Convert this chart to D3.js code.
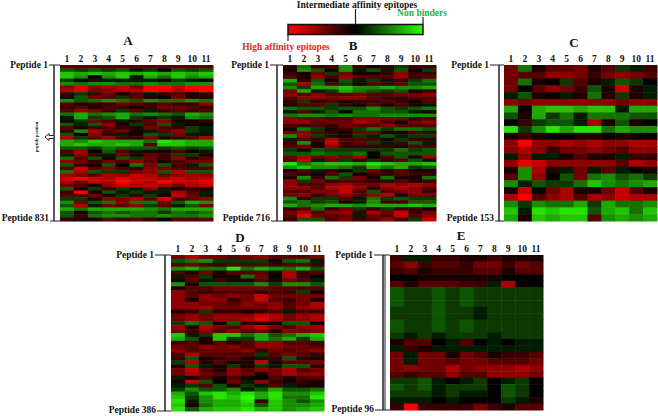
<!DOCTYPE html>
<html>
<head>
<meta charset="utf-8">
<script src="https://cdn.jsdelivr.net/npm/d3@7"></script>
<style>
  html, body { margin: 0; padding: 0; background: #fff; }
  text { font-family: "Liberation Serif", serif; font-weight: bold; fill: #111; }
</style>
</head>
<body>
<div id="chart"></div>
<script>
// columns are the 11 peptide positions, values: -9 red (high affinity) .. 9 green (non binder)
const positions = ["1", "2", "3", "4", "5", "6", "7", "8", "9", "10", "11"];

const rowsA = [
  [-3,-3,-3,-3,-3,-3,-3,-3,-3,-3,-3],
  [3,2,3,2,3,1,2,0,3,2,3],
  [7,6,7,6,7,6,7,6,7,6,7],
  [7,5,0,5,7,1,6,4,7,5,6],
  [2,0,-2,1,1,1,1,-1,2,1,0],
  [5,4,5,5,4,4,5,4,4,5,5],
  [-5,-8,-5,-6,-7,-4,-9,-9,-7,-9,-9],
  [-6,-8,-4,-5,-6,-6,-9,-8,-6,-8,-9],
  [-2,2,-2,-4,-1,-3,1,-2,-3,-1,-2],
  [-1,3,-4,-3,2,-3,-1,0,-4,-1,-1],
  [5,3,4,5,4,3,5,4,4,5,4],
  [-3,-1,-2,-2,-4,-3,-2,-3,-2,-2,-5],
  [-2,-3,-1,-3,-2,-1,-2,-4,-4,-3,-2],
  [-3,-5,-4,-2,2,-3,1,-2,-3,-2,-3],
  [4,6,4,5,6,4,5,4,3,6,5],
  [1,6,2,3,6,2,1,2,1,5,4],
  [-1,2,-4,-3,1,-2,-3,-5,-1,-1,-2],
  [3,1,3,-5,-1,2,-3,3,1,-1,0],
  [-3,-1,-2,-3,-2,-1,-4,-3,-2,2,1],
  [-2,5,-6,-3,-4,-1,1,-3,-5,2,1],
  [3,0,-5,-2,1,-1,3,2,-4,1,1],
  [-6,2,-3,-5,-2,-2,-4,-1,-2,-3,-6],
  [6,5,7,6,6,6,4,8,7,6,6],
  [6,7,6,6,7,6,-3,7,7,6,6],
  [3,3,2,4,3,3,3,2,3,2,3],
  [-3,-6,0,3,-3,1,-1,-1,-3,0,1],
  [1,-5,-2,1,-4,-1,-3,-2,2,2,-1],
  [4,-3,3,-1,3,2,-4,-2,-5,-2,-3],
  [-5,-4,-2,-4,-3,-5,-3,-1,-3,-4,-4],
  [3,-2,-1,3,0,4,-4,3,-2,1,3],
  [-3,-7,-3,-5,-3,-2,-5,-4,-3,-3,-3],
  [4,-6,3,2,2,-4,-5,3,-6,3,3],
  [-6,-4,-3,-6,-5,-7,-6,-4,-5,-6,-5],
  [-7,-9,-7,-6,-8,-7,-7,-6,-7,-6,-7],
  [-6,-4,-7,-6,-9,-7,-6,-9,-7,-7,-8],
  [-4,-3,-1,-5,-7,-6,-7,-6,-4,-6,-7],
  [3,-1,2,-2,2,1,-5,1,0,-1,-1],
  [-2,-9,-1,3,1,2,1,1,-6,-3,1],
  [-3,-3,-4,-1,2,-2,2,-1,-7,-4,1],
  [2,2,-1,-5,-4,-6,-3,-8,-2,-3,-5],
  [5,-4,3,4,-5,4,4,-4,3,6,5],
  [3,-6,1,-4,-3,-5,2,-3,1,3,-4],
  [6,4,6,6,6,6,5,4,6,6,6],
  [3,-1,3,4,3,4,4,2,4,3,4],
  [3,-2,4,5,5,4,4,5,4,4,5],
  [-2,-1,-1,-3,-2,-3,-2,0,-3,-3,-3]
];

const rowsB = [
  [-2,4,-2,-2,5,-2,-1,-2,2,-2,-2],
  [-1,5,3,-1,5,1,3,1,3,-1,2],
  [-2,-1,-4,2,-4,-1,-1,-2,-5,-2,-2],
  [-3,-1,-5,-2,-5,-3,-3,-3,-5,-2,-3],
  [6,-2,3,-1,3,1,2,1,-2,2,4],
  [3,-6,4,-3,2,-1,-3,-2,-3,3,3],
  [5,2,6,6,7,5,5,6,5,5,6],
  [-4,6,1,2,6,4,3,2,3,-1,-2],
  [-5,-3,-5,-3,-3,-4,-3,-3,-4,-4,-5],
  [-3,-5,-5,-4,-5,-5,-3,-2,-2,-3,-3],
  [-2,2,-2,-3,-1,-2,-2,-3,-2,-1,-3],
  [-1,-3,-3,2,-2,-1,-3,-1,-3,-1,1],
  [4,3,3,2,3,3,5,3,2,3,4],
  [1,-3,1,3,0,4,4,3,3,1,-1],
  [4,5,5,4,5,4,4,5,5,5,5],
  [-5,-4,-4,-3,-3,-5,-5,-4,-4,-2,-3],
  [-5,-5,-3,-4,-4,-6,-5,-3,-1,-4,-5],
  [-3,-2,-3,-2,-4,-3,-3,-5,-3,-3,-3],
  [-1,4,2,-1,-2,2,4,2,4,4,3],
  [-4,-5,-3,-2,-1,-4,-4,-1,-1,-3,-2],
  [5,-5,2,1,-1,2,1,3,1,2,2],
  [1,-3,-2,-6,-3,-3,-3,-1,2,-2,-2],
  [-2,5,-1,-7,-2,-3,2,1,-2,3,1],
  [-3,-4,-1,-5,-2,-2,-2,-2,-1,-3,-3],
  [2,-1,3,2,2,2,2,2,4,2,3],
  [3,3,4,3,3,4,0,3,3,3,3],
  [-4,-6,-4,-5,-4,-6,0,-3,3,-1,-5],
  [-3,-7,1,-4,2,-2,2,-2,-3,3,1],
  [8,4,6,7,7,6,8,7,6,6,7],
  [5,7,5,5,4,2,6,4,6,2,3],
  [-1,-3,1,-2,0,2,-4,-1,-3,-1,-1],
  [-3,-2,-1,-3,3,-1,-2,-2,-3,-2,-2],
  [-1,5,-2,4,2,-4,-1,4,-1,-1,4],
  [-5,2,-4,-2,-3,-3,-2,1,-3,-1,-2],
  [-5,-3,-3,-5,-6,-4,-4,-6,-5,-6,-5],
  [-5,-5,-3,-6,-7,-5,-2,-5,-6,-5,-3],
  [-3,-3,-5,-4,-7,-3,3,-3,-4,-5,-2],
  [-4,-5,-2,-4,-5,-3,-5,-6,-1,-4,-4],
  [5,-2,2,2,-3,1,4,2,3,2,2],
  [3,4,2,3,-1,1,5,-2,-2,3,3],
  [6,4,5,6,6,5,6,6,6,7,6],
  [-2,-3,4,-2,-4,2,-2,2,-2,-2,-1],
  [-4,-6,-3,-5,-5,-2,-6,-4,-7,-2,-4],
  [-3,-8,-4,-3,-4,1,-4,-3,-7,-3,-5],
  [-2,3,3,-3,-4,-2,-3,-5,-2,2,-7]
];

const rowsC = [
  [-4,4,-1,-3,-3,-4,-1,-3,2,1,-2],
  [-4,-3,-3,-5,-5,-4,-2,-4,-5,-4,-3],
  [-4,4,-1,0,2,-3,-1,1,3,2,0],
  [-4,0,-3,-5,-4,-2,3,-1,-7,-1,1],
  [1,3,-1,0,1,-1,4,-1,2,-1,1],
  [-5,-4,-5,-5,-5,-5,-5,-5,-4,-5,-5],
  [6,0,6,7,7,6,7,7,1,6,6],
  [3,-1,6,2,4,1,4,4,4,3,3],
  [0,-2,2,3,3,1,-6,-1,3,-1,0],
  [8,2,5,8,6,8,8,4,6,5,5],
  [-1,-2,-1,0,0,-1,-1,0,-1,0,0],
  [-5,-9,-5,-5,-6,-5,-6,-5,-5,-6,-6],
  [-5,-6,-5,-2,-4,-4,-5,-4,-3,-5,-5],
  [1,-5,1,1,-1,-3,-1,-1,1,-2,-2],
  [-5,-8,-7,-5,-5,-5,-5,-5,-3,-6,-5],
  [-1,5,-6,-1,1,-4,1,-3,1,0,-1],
  [-3,5,-5,0,3,-4,4,5,3,4,2],
  [5,1,3,2,2,4,7,5,4,5,6],
  [-1,-7,0,-4,-6,-1,-1,-4,-7,-3,-1],
  [-6,-9,-3,-5,-6,-3,-6,-5,-7,-6,-6],
  [5,2,5,4,4,6,2,6,4,4,5],
  [7,1,8,7,8,8,3,6,7,4,7],
  [6,-1,7,6,7,7,-3,5,6,5,6]
];

const rowsD = [
  [-4,-6,-4,-4,-3,-4,-5,-3,-3,-3,-4],
  [3,4,5,2,2,2,2,-1,3,4,1],
  [-3,-4,-3,-2,-3,-3,-3,-2,-3,-3,-2],
  [5,6,4,4,8,4,6,5,4,6,3],
  [-3,-1,-4,-1,-3,-3,-3,-1,-6,-2,-3],
  [1,-3,2,-1,-1,4,-4,0,-6,-2,0],
  [-1,-3,1,-2,-1,-1,-3,-1,-4,-3,1],
  [5,-1,3,3,3,3,5,2,5,5,3],
  [-1,-3,-3,-4,-4,-4,-4,-3,-3,-3,-3],
  [-5,-3,-2,-3,-3,-3,-2,-3,-2,2,-1],
  [-5,-3,-5,-4,-5,-4,-7,-4,-4,-4,-4],
  [-5,-1,-5,-5,-2,-4,-7,-3,-2,-4,-1],
  [-5,-5,-4,-4,-3,-5,-4,-5,-3,-4,-6],
  [-5,-5,-6,-4,-4,-4,-4,-5,-3,-5,-6],
  [-1,-2,2,-2,-2,-1,-2,-3,1,-3,-2],
  [-4,-5,-4,-5,-5,-5,-7,-6,-4,-5,-6],
  [-4,-5,-4,-5,-5,-6,-8,-6,-4,-5,-6],
  [2,4,3,-1,3,-2,-1,-1,3,3,-1],
  [-5,-1,-6,-4,-3,-5,-7,-4,-2,-5,-5],
  [-4,-2,-5,-3,-5,-3,-4,-1,-5,-4,-5],
  [7,1,2,7,7,4,6,3,4,6,7],
  [6,3,-1,7,2,2,6,4,6,2,6],
  [-2,-3,-1,-3,-1,-3,-5,-5,-3,-3,-2],
  [-4,-3,-5,-4,-5,-3,-5,-5,-4,-4,-3],
  [-5,-3,-4,-4,-4,-5,-2,-4,-3,-4,-5],
  [-3,-6,-3,-3,-3,-3,2,-3,-4,-3,-2],
  [-2,3,-1,-2,-3,-1,1,-2,3,-2,-1],
  [2,-6,-1,-3,-1,-1,-7,-1,-3,-3,-4],
  [-1,3,1,-1,2,-1,2,1,3,3,-2],
  [-4,-7,-3,-1,-5,-3,-5,-4,-6,-3,-4],
  [-4,-6,-4,-3,-5,-4,-1,-4,-6,-5,-5],
  [1,-1,-3,-1,-3,-1,0,-3,-1,-3,-3],
  [-1,-7,3,0,-4,1,-5,-2,-1,-2,-1],
  [1,2,-3,3,-1,2,1,-3,1,-1,-1],
  [2,5,3,3,5,1,3,6,3,3,4],
  [6,3,7,8,6,8,6,8,5,5,7],
  [7,2,5,8,7,9,6,8,4,4,8],
  [8,1,5,6,6,8,-2,7,5,3,5],
  [7,-1,4,6,6,7,3,7,5,5,6],
  [8,3,6,7,7,8,6,7,5,6,7]
];

const rowsE = [
  [-2,1,1,-2,-2,-1,-1,-2,-1,-1,-1],
  [-3,-5,-2,-3,-3,-2,-4,-4,-2,-4,-3],
  [-2,-3,-1,-2,-2,-2,-3,-3,-1,-3,-3],
  [0,0,-1,-1,-1,-1,-1,-1,0,0,0],
  [-3,-1,-3,-3,-3,-2,-2,1,-6,0,0],
  [3,2,2,3,2,3,2,2,2,2,2],
  [3,2,2,3,2,3,2,2,2,2,2],
  [3,2,2,3,2,3,2,2,2,2,2],
  [2,2,2,3,2,2,1,2,2,2,2],
  [2,2,2,3,2,2,1,2,2,2,2],
  [3,2,2,3,2,3,2,2,2,2,2],
  [3,2,2,3,2,3,2,2,2,2,2],
  [2,1,2,1,2,2,2,1,2,2,2],
  [-1,-3,-3,0,1,-3,0,1,0,1,1],
  [1,-2,-1,1,1,1,1,1,1,1,1],
  [-4,1,-4,-4,-1,-4,-3,-1,-2,-2,-3],
  [-4,1,-4,-4,-3,-4,-4,-3,-3,-3,-4],
  [-4,-5,-4,-4,-6,-4,-5,-5,-5,-6,-5],
  [-3,-2,-3,-3,-5,-3,-3,-5,-5,-5,-4],
  [2,2,3,1,0,1,2,0,1,2,0],
  [3,2,3,1,2,2,2,0,3,2,0],
  [2,2,2,1,2,1,1,0,3,2,0],
  [1,1,1,0,1,0,0,0,2,1,-1],
  [-2,-9,-2,-2,-2,-2,-4,-2,-1,-3,-3]
];

// the colour key
const colorStops = [-9, 0, 9];
const colorRange = ["#ff0000", "#000000", "#2aff00"];

const width = 658, height = 416;
const svg = d3.select("#chart").append("svg")
  .attr("width", width)
  .attr("height", height);

const color = d3.scaleLinear().domain(colorStops).range(colorRange);

const defs = svg.append("defs");
defs.append("filter").attr("id", "soft")
  .attr("x", "-5%").attr("y", "-5%").attr("width", "110%").attr("height", "110%")
  .append("feGaussianBlur").attr("stdDeviation", 0.6);

const line = (x1, y1, x2, y2, w) => svg.append("line")
  .attr("x1", x1).attr("y1", y1).attr("x2", x2).attr("y2", y2)
  .attr("stroke", "#222").attr("stroke-width", w || 1);

const label = (txt, x, y, size, anchor, fill) => svg.append("text")
  .attr("x", x).attr("y", y)
  .attr("font-size", size)
  .attr("text-anchor", anchor || "middle")
  .style("fill", fill || "#111")
  .text(txt);

function panel(p) {
  const x = d3.scaleBand().domain(positions).range([p.x0, p.x1]);
  const y = d3.scaleBand().domain(d3.range(p.rows.length)).range([p.y0, p.y1]);

  const g = svg.append("g").attr("filter", "url(#soft)");
  p.rows.forEach((row, i) => {
    g.selectAll(null)
      .data(row)
      .join("rect")
      .attr("x", (d, j) => x(positions[j]))
      .attr("y", y(i))
      .attr("width", x.bandwidth() + 0.5)
      .attr("height", y.bandwidth() + 0.5)
      .attr("fill", d => color(d));
  });

  // column numbers
  positions.forEach(c => label(c, x(c) + x.bandwidth() / 2, p.y0 - 3, 9.5));

  // bracket with peptide range
  line(p.bx, p.y0, p.bx, p.y1, 1.5);
  line(p.end1 + 1, p.y0, p.x0, p.y0, 1);
  line(p.end2 + 1, p.y1, p.x0, p.y1, 1);
  label("Peptide 1", p.end1, p.y0 + 3, 9.5, "end");
  label("Peptide " + p.last, p.end2, p.y1 + p.dy, 9.5, "end");
  label(p.name, p.lx, p.ly, 13);
}

panel({ name: "A", rows: rowsA, last: 831, x0: 60, x1: 213, y0: 65, y1: 221, bx: 54, end1: 48, end2: 49, dy: 0, lx: 128, ly: 45 });
panel({ name: "B", rows: rowsB, last: 716, x0: 283, x1: 436, y0: 65, y1: 221, bx: 277, end1: 269, end2: 270, dy: 0, lx: 353, ly: 50 });
panel({ name: "C", rows: rowsC, last: 153, x0: 504, x1: 657, y0: 65, y1: 221, bx: 499, end1: 489, end2: 494, dy: 0, lx: 574, ly: 47 });
panel({ name: "D", rows: rowsD, last: 386, x0: 171, x1: 324, y0: 255, y1: 411, bx: 165, end1: 154, end2: 156, dy: 2, lx: 240, ly: 242 });
panel({ name: "E", rows: rowsE, last: 96, x0: 390, x1: 543, y0: 255, y1: 410, bx: 383, end1: 373, end2: 374, dy: 2, lx: 461, ly: 240 });
line(385, 255, 385, 410, 1);

// peptide position note and arrow on panel A
svg.append("text")
  .attr("transform", "translate(38,137) rotate(-90)")
  .attr("font-size", 4.5)
  .attr("text-anchor", "middle")
  .text("peptide position");
svg.append("path")
  .attr("d", d3.line()([[45, 137], [49, 133.5], [49, 135.5], [54, 135.5], [54, 138.5], [49, 138.5], [49, 140.5]]) + "Z")
  .attr("fill", "#fff").attr("stroke", "#222").attr("stroke-width", 1);

// colour key
const keyScale = d3.scaleLinear().domain([colorStops[0], colorStops[2]]).range([288, 423]);
const grad = defs.append("linearGradient").attr("id", "key");
colorStops.forEach((s, i) => {
  grad.append("stop")
    .attr("offset", (i / (colorStops.length - 1) * 100) + "%")
    .attr("stop-color", colorRange[i]);
});
svg.append("rect")
  .attr("x", keyScale(-9)).attr("y", 24.5)
  .attr("width", keyScale(9) - keyScale(-9)).attr("height", 10)
  .attr("fill", "url(#key)")
  .attr("stroke", "#111").attr("stroke-width", 1.5);
line(keyScale(0), 9, keyScale(0), 24, 1.2);
line(keyScale(9), 17, keyScale(9), 24, 1.2);
line(keyScale(-9), 34, keyScale(-9), 41, 1.2);
label("Intermediate affinity epitopes", 357, 7.5, 9.5);
label("Non binders", 447, 16, 9.5, "end", "#22b14c");
label("High affinity epitopes", 286, 50, 9.5, "middle", "#ed1c24");
</script>
</body>
</html>
